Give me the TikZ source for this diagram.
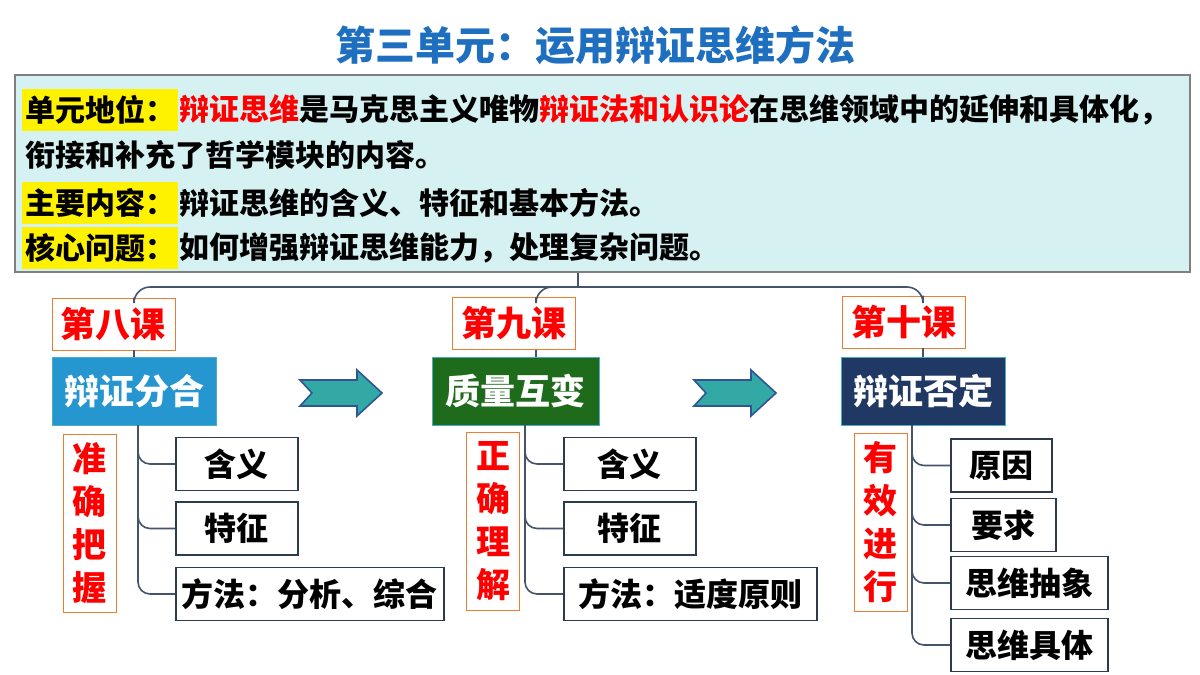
\documentclass[tikz,border=0pt]{standalone}
\usepackage{fontspec}
\setmainfont{Noto Sans CJK SC}
\usetikzlibrary{positioning}
\definecolor{titleblue}{HTML}{1F6FC0}
\definecolor{infofill}{HTML}{D5F1F1}
\definecolor{infoline}{HTML}{7F7F7F}
\definecolor{lessonorange}{HTML}{ED7D31}
\definecolor{topicblue}{HTML}{2596CF}
\definecolor{topicgreen}{HTML}{1E6B1C}
\definecolor{topicnavy}{HTML}{1F3864}
\definecolor{topicedge}{HTML}{4BACC6}
\definecolor{itemedge}{HTML}{2E3B4E}
\definecolor{linkgray}{HTML}{44546A}
\definecolor{arrowteal}{HTML}{33A9A6}
\definecolor{arrowedge}{HTML}{2F5597}

\begin{document}
\begin{tikzpicture}[x=0.5pt,y=-0.5pt,
		every node/.style={font=\bfseries,inner sep=0pt},
		info/.style={draw=infoline,fill=infofill,line width=1pt},
		row/.style={anchor=west,inner xsep=1.5pt,font=\fontsize{15}{18}\selectfont\bfseries},
		hl/.style={row,fill=yellow,minimum height=21pt},
		lesson/.style={draw=lessonorange,fill=white,text=red,minimum width=61.5pt,minimum height=26pt,font=\fontsize{17.5}{20}\selectfont\bfseries},
		topic/.style={draw=topicedge,text=white,minimum height=34pt,font=\fontsize{17.5}{20}\selectfont\bfseries},
		vtext/.style={draw=lessonorange,fill=white,text=red,align=center,minimum width=26.5pt,minimum height=89pt,font=\fontsize{17}{21.5}\selectfont\bfseries},
		item/.style={draw=itemedge,fill=white,anchor=west,line width=0.8pt,minimum height=26.5pt,font=\fontsize{16}{18}\selectfont\bfseries},
		link/.style={draw=linkgray,line width=0.8pt},
		bigarrow/.style={fill=arrowteal,draw=arrowedge,line width=0.8pt}]
	\fill[white] (0,0) rectangle (1200,675);
	\useasboundingbox (0,0) rectangle (1200,675);

	\node[font=\fontsize{20}{24}\selectfont\bfseries,text=titleblue] (title) at (595,45) {第三单元：运用辩证思维方法};
	\node[info,minimum width=587.5pt,minimum height=98.5pt] (info) at (602.5,173.5) {};
	\node[hl] (r1) at (22,110) {单元地位：};
	\node[row,inner xsep=0pt,right=0pt of r1] (r1t) {\textcolor{red}{辩证思维}是马克思主义唯物\textcolor{red}{辩证法和认识论}在思维领域中的延伸和具体化，};
	\node[row] (r2) at (22,155) {衔接和补充了哲学模块的内容。};
	\node[hl] (r3) at (22,203) {主要内容：};
	\node[row,inner xsep=0pt,right=0pt of r3] (r3t) {辩证思维的含义、特征和基本方法。};
	\node[hl] (r4) at (22,248) {核心问题：};
	\node[row,inner xsep=0pt,right=0pt of r4] (r4t) {如何增强辩证思维能力，处理复杂问题。};

	\node[lesson] (l1) at (113.5,324) {第八课};
	\node[lesson] (l2) at (513.5,323.5) {第九课};
	\node[lesson] (l3) at (903.5,322) {第十课};
	\node[topic,fill=topicblue,minimum width=82pt] (t1) at (134,391) {辩证分合};
	\node[topic,fill=topicgreen,minimum width=83.5pt] (t2) at (515.5,391) {质量互变};
	\node[topic,fill=topicnavy,minimum width=82pt] (t3) at (923,391) {辩证否定};
	\node[vtext] (v1) at (89.5,523) {准\\确\\把\\握};
	\node[vtext] (v2) at (493,521.5) {正\\确\\理\\解};
	\node[vtext] (v3) at (880.5,522) {有\\效\\进\\行};

	\node[item,minimum width=61pt] (a1) at (175,464) {含义};
	\node[item,minimum width=61pt] (b1) at (175,528.5) {特征};
	\node[item,minimum width=134pt] (c1) at (175,594) {方法：分析、综合};
	\node[item,minimum width=66pt] (a2) at (563,464) {含义};
	\node[item,minimum width=66pt] (b2) at (563,528.5) {特征};
	\node[item,minimum width=126.5pt] (c2) at (563,594) {方法：适度原则};
	\node[item,minimum width=50.5pt] (a3) at (950,465.5) {原因};
	\node[item,minimum width=52.5pt] (b3) at (950,525) {要求};
	\node[item,minimum width=78.5pt] (c3) at (950,583) {思维抽象};
	\node[item,minimum width=78.5pt] (d3) at (950,645) {思维具体};

	\coordinate (hub) at (578,287);
	\coordinate (d2) at (536,0);
	\draw[link] (info.south -| hub) -- (hub);
	\draw[link,rounded corners=8] (l1.north -| t1.north) |- (hub) -| (l3.north -| t3.north);
	\draw[link,rounded corners=8] (hub) -| (l2.north -| d2);
	\draw[link] (l1.south -| t1.north) -- (t1.north);
	\draw[link] (l2.south -| d2) -- (t2.north -| d2);
	\draw[link] (l3.south -| t3.north) -- (t3.north);

	\coordinate (k1) at (138,425);
	\coordinate (k2) at (525,425);
	\coordinate (k3) at (912,425);
	\foreach \s in {a1,b1,c1} \draw[link,rounded corners=6] (k1) |- (\s.west);
	\foreach \s in {a2,b2,c2} \draw[link,rounded corners=6] (k2) |- (\s.west);
	\foreach \s in {a3,b3,c3,d3} \draw[link,rounded corners=6] (k3) |- (\s.west);

	\foreach \x in {300,694}
		\draw[bigarrow,shift={(\x,0)}] (0,380) -- (57,380) -- (57,370) -- (82,393) -- (57,416) -- (57,406) -- (0,406) -- (12,393) -- cycle;
\end{tikzpicture}
\end{document}
